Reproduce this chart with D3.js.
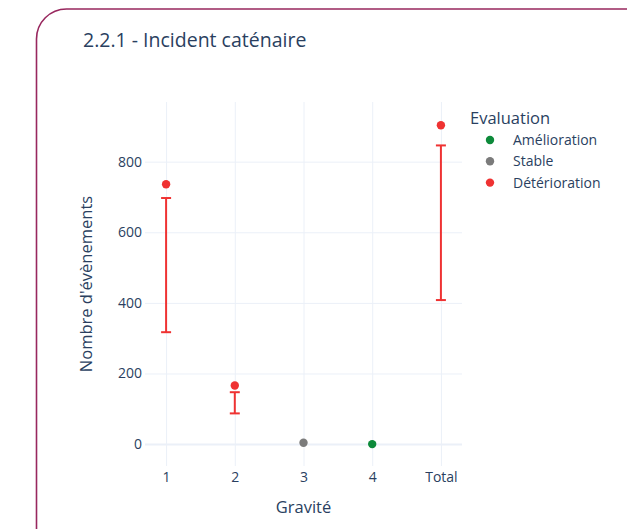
<!doctype html>
<html>
  <head>
    <meta charset="utf-8">
    <script src="https://cdnjs.cloudflare.com/ajax/libs/d3/7.8.5/d3.min.js"></script>
    <style>
      body { margin: 0; background: #fff; }
      svg { display: block; font-family: "Open Sans", Arial, sans-serif; }
    </style>
  </head>
  <body>
    <svg width="627" height="529"></svg>
    <script>
      // data
      var categories = ["1", "2", "3", "4", "Total"];
      var evaluations = ["Détérioration", "Détérioration", "Stable", "Amélioration", "Détérioration"];
      var values = [736, 166, 4, 0, 903];
      var lowerBounds = [317, 87, null, null, 408];
      var upperBounds = [697, 147, null, null, 846];
      var yTicks = [0, 200, 400, 600, 800];
      var legendItems = ["Amélioration", "Stable", "Détérioration"];
      var legendColors = ["#0d8a3a", "#7b7b7b", "#ef3232"];

      var textColor = "#2a3f5f";
      var gridColor = "#ebf0f8";

      var svg = d3.select("svg");

      // card border with rounded top-left corner
      svg.append("path")
        .attr("d", "M36.5,540 L36.5,39 A30,30 0 0 1 66.5,9 L640,9")
        .attr("fill", "none")
        .attr("stroke", "#98275e")
        .attr("stroke-width", 1.6);

      svg.append("text")
        .attr("x", 83)
        .attr("y", 47)
        .attr("font-size", 19.5)
        .attr("fill", textColor)
        .text("2.2.1 - Incident caténaire");

      var plot = { left: 145, right: 462, top: 102, bottom: 466 };

      var x = d3.scalePoint()
        .domain(categories)
        .range([plot.left, plot.right])
        .padding(0.307);

      var y = d3.scaleLinear()
        .domain([-62, 969])
        .range([plot.bottom, plot.top]);

      var color = d3.scaleOrdinal().domain(legendItems).range(legendColors);

      // gridlines
      var yAxis = d3.axisLeft(y)
        .tickValues(yTicks)
        .tickSize(-(plot.right - plot.left))
        .tickPadding(3);

      var gy = svg.append("g")
        .attr("transform", "translate(" + plot.left + ",0)")
        .call(yAxis);
      gy.select(".domain").remove();
      gy.selectAll("line")
        .attr("stroke", gridColor)
        .attr("stroke-width", d => d === 0 ? 2 : 1);
      gy.selectAll("text")
        .attr("font-size", 14)
        .attr("fill", textColor)
        .attr("font-family", "Open Sans");

      var xAxis = d3.axisBottom(x)
        .tickSize(-(plot.bottom - plot.top))
        .tickPadding(6);

      var gx = svg.append("g")
        .attr("transform", "translate(0," + plot.bottom + ")")
        .call(xAxis);
      gx.select(".domain").remove();
      gx.selectAll("line").attr("stroke", gridColor);
      gx.selectAll("text")
        .attr("font-size", 14)
        .attr("fill", textColor)
        .attr("font-family", "Open Sans");

      // keep the zero line over the vertical grid
      gy.filter(function () { return true; });
      gy.selectAll(".tick").filter(d => d === 0).raise();
      gy.raise();

      var rows = categories.map((c, i) => ({
        cat: c, ev: evaluations[i], v: values[i], lo: lowerBounds[i], hi: upperBounds[i]
      }));

      // error bars
      var bars = svg.append("g")
        .selectAll("g")
        .data(rows.filter(d => d.lo !== null))
        .enter()
        .append("g")
        .attr("stroke", d => color(d.ev))
        .attr("stroke-width", 2);

      bars.append("line")
        .attr("x1", d => x(d.cat)).attr("x2", d => x(d.cat))
        .attr("y1", d => y(d.lo)).attr("y2", d => y(d.hi));
      bars.append("line")
        .attr("x1", d => x(d.cat) - 5).attr("x2", d => x(d.cat) + 5)
        .attr("y1", d => y(d.lo)).attr("y2", d => y(d.lo));
      bars.append("line")
        .attr("x1", d => x(d.cat) - 5).attr("x2", d => x(d.cat) + 5)
        .attr("y1", d => y(d.hi)).attr("y2", d => y(d.hi));

      // points
      svg.append("g")
        .selectAll("circle")
        .data(rows)
        .enter()
        .append("circle")
        .attr("cx", d => x(d.cat))
        .attr("cy", d => y(d.v))
        .attr("r", 4.2)
        .attr("fill", d => color(d.ev));

      // axis titles
      svg.append("text")
        .attr("x", (plot.left + plot.right) / 2)
        .attr("y", 513)
        .attr("text-anchor", "middle")
        .attr("font-size", 16.5)
        .attr("fill", textColor)
        .text("Gravité");

      svg.append("text")
        .attr("transform", "translate(92," + ((plot.top + plot.bottom) / 2) + ") rotate(-90)")
        .attr("text-anchor", "middle")
        .attr("font-size", 16.5)
        .attr("fill", textColor)
        .text("Nombre d'évènements");

      // legend
      var legend = svg.append("g");
      legend.append("text")
        .attr("x", 470)
        .attr("y", 124)
        .attr("font-size", 16.5)
        .attr("fill", textColor)
        .text("Evaluation");

      var li = legend.selectAll("g.item")
        .data(legendItems)
        .enter()
        .append("g")
        .attr("class", "item")
        .attr("transform", (d, i) => "translate(0," + (140 + i * 21.3) + ")");
      li.append("circle")
        .attr("cx", 490)
        .attr("r", 4.2)
        .attr("fill", d => color(d));
      li.append("text")
        .attr("x", 513)
        .attr("dy", "0.35em")
        .attr("font-size", 14)
        .attr("fill", textColor)
        .text(d => d);
    </script>
  </body>
</html>
